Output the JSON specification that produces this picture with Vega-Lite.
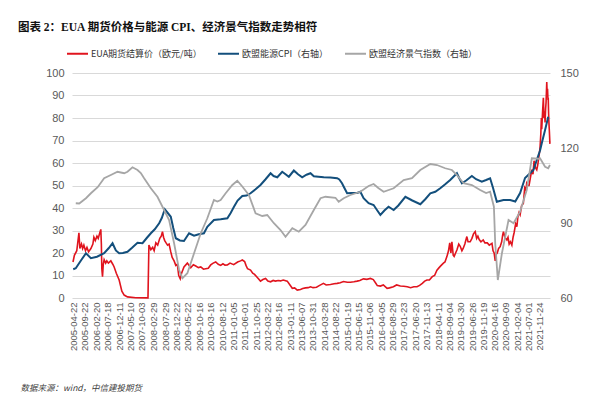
{
  "$schema": "https://vega.github.io/schema/vega-lite/v6.json",
  "width": 478,
  "height": 225,
  "autosize": {"type": "none"},
  "padding": {"left": 72, "top": 73, "right": 66, "bottom": 100},
  "background": "white",
  "title": {
    "text": "图表 2：EUA 期货价格与能源 CPI、经济景气指数走势相符",
    "anchor": "start",
    "frame": "group",
    "dx": -54,
    "font": "Liberation Serif, Noto Sans CJK SC",
    "fontSize": 11.5,
    "fontWeight": "bold",
    "color": "#111111",
    "offset": 9
  },
  "datasets": {
    "eua": [
      {"d":"2005-04-22","v":16},{"d":"2005-05-10","v":19},{"d":"2005-06-10","v":21},{"d":"2005-07-08","v":29},{"d":"2005-07-20","v":22},{"d":"2005-08-10","v":24},{"d":"2005-08-25","v":22},{"d":"2005-09-10","v":23.5},{"d":"2005-10-01","v":21},{"d":"2005-10-20","v":22.5},{"d":"2005-11-10","v":20.5},{"d":"2005-12-10","v":22},
      {"d":"2006-01-05","v":24},{"d":"2006-01-18","v":27},{"d":"2006-02-05","v":25.5},{"d":"2006-02-27","v":27.5},{"d":"2006-03-15","v":26.5},{"d":"2006-04-05","v":29},{"d":"2006-04-18","v":30.5},{"d":"2006-04-25","v":24},{"d":"2006-05-01","v":13},{"d":"2006-05-10","v":9.5},{"d":"2006-05-20","v":15},{"d":"2006-05-31","v":17},{"d":"2006-06-20","v":15.5},{"d":"2006-07-05","v":16.5},{"d":"2006-07-25","v":15.5},{"d":"2006-08-26","v":16.5},{"d":"2006-09-20","v":15},{"d":"2006-10-08","v":13.8},{"d":"2006-11-05","v":11},{"d":"2006-12-12","v":8},
      {"d":"2007-01-16","v":3},{"d":"2007-02-15","v":1.3},{"d":"2007-03-30","v":0.5},{"d":"2007-07-15","v":0.1},{"d":"2007-12-21","v":0.05},
      {"d":"2008-01-02","v":23.5},{"d":"2008-01-27","v":21.5},{"d":"2008-02-20","v":22.5},{"d":"2008-03-10","v":21},{"d":"2008-04-01","v":24.5},{"d":"2008-04-25","v":23.5},{"d":"2008-05-22","v":26.5},{"d":"2008-06-10","v":27.5},{"d":"2008-06-26","v":29.5},{"d":"2008-07-10","v":27},{"d":"2008-07-25","v":25.5},{"d":"2008-08-12","v":24.5},{"d":"2008-08-31","v":23.5},{"d":"2008-09-20","v":24},{"d":"2008-10-12","v":20.5},{"d":"2008-10-30","v":18},{"d":"2008-11-24","v":16.5},{"d":"2008-12-16","v":14.5},
      {"d":"2009-01-05","v":15},{"d":"2009-01-23","v":10},{"d":"2009-02-12","v":8.5},{"d":"2009-03-01","v":11},{"d":"2009-04-01","v":13.8},{"d":"2009-05-15","v":15.5},{"d":"2009-06-28","v":13.5},{"d":"2009-08-01","v":14.8},{"d":"2009-09-01","v":14.2},{"d":"2009-10-05","v":13.5},{"d":"2009-11-05","v":13.8},{"d":"2009-12-10","v":12.8},
      {"d":"2010-01-08","v":13},{"d":"2010-02-10","v":13.2},{"d":"2010-03-14","v":14.7},{"d":"2010-04-15","v":15.5},{"d":"2010-05-18","v":16},{"d":"2010-06-20","v":15},{"d":"2010-07-21","v":14.5},{"d":"2010-08-20","v":15.2},{"d":"2010-09-15","v":14.6},{"d":"2010-10-16","v":14.7},{"d":"2010-11-20","v":15.5},
      {"d":"2011-01-06","v":14.8},{"d":"2011-02-26","v":16},{"d":"2011-04-05","v":16.5},{"d":"2011-04-28","v":16.9},{"d":"2011-05-28","v":16.2},{"d":"2011-06-15","v":14.5},{"d":"2011-07-05","v":13},{"d":"2011-08-13","v":12.4},{"d":"2011-09-10","v":11},{"d":"2011-10-04","v":10.5},{"d":"2011-11-12","v":9},{"d":"2011-12-20","v":7.5},
      {"d":"2012-01-20","v":8.2},{"d":"2012-02-24","v":8.7},{"d":"2012-03-25","v":7.5},{"d":"2012-04-29","v":7.2},{"d":"2012-06-01","v":7.8},{"d":"2012-07-01","v":7.5},{"d":"2012-08-05","v":7.8},{"d":"2012-09-05","v":7.6},{"d":"2012-10-10","v":8},{"d":"2012-12-01","v":7.5},
      {"d":"2013-01-01","v":6},{"d":"2013-02-05","v":4.3},{"d":"2013-03-07","v":4.5},{"d":"2013-04-10","v":3.5},{"d":"2013-05-22","v":3.8},{"d":"2013-06-20","v":4.2},{"d":"2013-07-26","v":4.5},{"d":"2013-08-30","v":4.6},{"d":"2013-09-29","v":5},{"d":"2013-11-01","v":4.6},{"d":"2013-12-16","v":4.8},
      {"d":"2014-01-20","v":5.5},{"d":"2014-03-16","v":6.5},{"d":"2014-04-20","v":5.8},{"d":"2014-06-15","v":6},{"d":"2014-08-01","v":6.3},{"d":"2014-09-10","v":6.5},{"d":"2014-10-20","v":6.8},{"d":"2014-12-01","v":7.3},
      {"d":"2015-01-20","v":7},{"d":"2015-03-01","v":7},{"d":"2015-04-15","v":7.2},{"d":"2015-05-27","v":7.5},{"d":"2015-07-01","v":7.8},{"d":"2015-08-17","v":8.5},{"d":"2015-10-01","v":8.3},{"d":"2015-11-15","v":8.7},{"d":"2015-12-23","v":8.2},
      {"d":"2016-01-20","v":6.8},{"d":"2016-02-13","v":5.5},{"d":"2016-03-24","v":5.3},{"d":"2016-05-01","v":5.8},{"d":"2016-06-19","v":4.3},{"d":"2016-07-20","v":4.5},{"d":"2016-09-09","v":5},{"d":"2016-10-20","v":5.8},{"d":"2016-12-08","v":5.3},
      {"d":"2017-01-20","v":5.2},{"d":"2017-03-08","v":5},{"d":"2017-04-20","v":4.6},{"d":"2017-06-01","v":5},{"d":"2017-07-12","v":5},{"d":"2017-08-15","v":5.6},{"d":"2017-09-19","v":6.5},{"d":"2017-10-20","v":7.5},{"d":"2017-11-18","v":8},{"d":"2017-12-20","v":8},
      {"d":"2018-01-26","v":9.5},{"d":"2018-02-25","v":10},{"d":"2018-03-28","v":12.4},{"d":"2018-04-25","v":13.5},{"d":"2018-05-22","v":14.5},{"d":"2018-06-20","v":15.5},{"d":"2018-07-10","v":16},{"d":"2018-08-04","v":18.4},{"d":"2018-08-25","v":21},{"d":"2018-09-10","v":24.5},{"d":"2018-09-25","v":20},{"d":"2018-10-08","v":25},{"d":"2018-10-25","v":19},{"d":"2018-11-06","v":18.5},{"d":"2018-11-25","v":20},{"d":"2018-12-12","v":21.3},
      {"d":"2019-01-05","v":24},{"d":"2019-01-24","v":23},{"d":"2019-02-15","v":21},{"d":"2019-03-03","v":22},{"d":"2019-03-25","v":24},{"d":"2019-04-20","v":27.3},{"d":"2019-05-05","v":25},{"d":"2019-06-02","v":25},{"d":"2019-06-25","v":26.5},{"d":"2019-07-15","v":28.5},{"d":"2019-08-06","v":29.5},{"d":"2019-08-25","v":26.5},{"d":"2019-09-10","v":27.5},{"d":"2019-09-27","v":26},{"d":"2019-10-20","v":25},{"d":"2019-11-18","v":25.8},{"d":"2019-12-10","v":24.5},
      {"d":"2020-01-10","v":24.5},{"d":"2020-02-05","v":23.5},{"d":"2020-03-11","v":24.3},{"d":"2020-03-25","v":21},{"d":"2020-04-08","v":20},{"d":"2020-04-22","v":16.5},{"d":"2020-05-05","v":19.5},{"d":"2020-05-18","v":20},{"d":"2020-06-05","v":22},{"d":"2020-06-25","v":22.8},{"d":"2020-07-15","v":25},{"d":"2020-07-28","v":28},{"d":"2020-08-07","v":29.5},{"d":"2020-08-25","v":27},{"d":"2020-09-20","v":25.8},{"d":"2020-10-05","v":27},{"d":"2020-10-20","v":24},{"d":"2020-11-05","v":25},{"d":"2020-11-24","v":23.5},{"d":"2020-12-10","v":27},{"d":"2020-12-23","v":29},
      {"d":"2021-01-12","v":33},{"d":"2021-01-28","v":31.7},{"d":"2021-02-10","v":36},{"d":"2021-02-25","v":38},{"d":"2021-03-11","v":37},{"d":"2021-03-30","v":41},{"d":"2021-04-22","v":42},{"d":"2021-05-10","v":49},{"d":"2021-05-25","v":48},{"d":"2021-06-05","v":51},{"d":"2021-06-20","v":50},{"d":"2021-07-05","v":50},{"d":"2021-07-20","v":53},{"d":"2021-08-10","v":57},{"d":"2021-08-25","v":55},{"d":"2021-09-08","v":61},{"d":"2021-09-25","v":58},{"d":"2021-10-13","v":57},{"d":"2021-10-25","v":59},{"d":"2021-11-03","v":61},{"d":"2021-11-15","v":64},{"d":"2021-11-25","v":67},{"d":"2021-12-05","v":73},{"d":"2021-12-12","v":80},{"d":"2021-12-17","v":75},{"d":"2021-12-28","v":83},
      {"d":"2022-01-07","v":89},{"d":"2022-01-15","v":80},{"d":"2022-01-22","v":83},{"d":"2022-01-29","v":78},{"d":"2022-02-05","v":84},{"d":"2022-02-11","v":87},{"d":"2022-02-20","v":96},{"d":"2022-02-25","v":91},{"d":"2022-03-02","v":93},{"d":"2022-03-08","v":88},{"d":"2022-03-11","v":89},{"d":"2022-03-16","v":82},{"d":"2022-03-20","v":78},{"d":"2022-03-26","v":74},{"d":"2022-04-02","v":68.5}
    ],
    "cpi": [
      {"d":"2005-04-25","v":71.5},{"d":"2005-05-28","v":71.9},{"d":"2005-08-03","v":75},{"d":"2005-10-07","v":77.9},{"d":"2005-12-10","v":75.9},{"d":"2006-02-27","v":76.5},{"d":"2006-05-31","v":77.9},{"d":"2006-07-31","v":80},{"d":"2006-09-17","v":81.9},{"d":"2006-10-30","v":79},{"d":"2006-12-12","v":77.9},
      {"d":"2007-01-29","v":78},{"d":"2007-03-30","v":78.5},{"d":"2007-05-25","v":80},{"d":"2007-08-07","v":82.1},{"d":"2007-10-11","v":81.9},{"d":"2007-12-05","v":84},{"d":"2008-01-27","v":85.9},{"d":"2008-03-18","v":87.5},{"d":"2008-05-14","v":89.9},{"d":"2008-06-17","v":92},{"d":"2008-07-26","v":95.5},{"d":"2008-09-03","v":94},{"d":"2008-10-12","v":92.5},{"d":"2008-11-13","v":88},{"d":"2008-12-16","v":83.9},
      {"d":"2009-02-07","v":83},{"d":"2009-04-01","v":82.8},{"d":"2009-06-06","v":85.9},{"d":"2009-08-10","v":84.9},{"d":"2009-10-10","v":85.5},{"d":"2009-12-16","v":85.9},{"d":"2010-01-29","v":88.5},{"d":"2010-04-25","v":91.2},{"d":"2010-07-21","v":91.5},{"d":"2010-10-16","v":91.9},{"d":"2010-11-28","v":94},
      {"d":"2011-01-10","v":96.5},{"d":"2011-02-26","v":99},{"d":"2011-04-28","v":100.8},{"d":"2011-06-23","v":101},{"d":"2011-08-13","v":101.9},{"d":"2011-10-17","v":103.5},{"d":"2011-12-20","v":105.2},{"d":"2012-02-24","v":107.5},{"d":"2012-04-29","v":109.9},{"d":"2012-06-07","v":108.8},{"d":"2012-07-25","v":108.3},{"d":"2012-09-27","v":110.5},{"d":"2012-11-09","v":109.5},{"d":"2012-12-22","v":108.5},
      {"d":"2013-02-25","v":111},{"d":"2013-04-20","v":109.5},{"d":"2013-06-13","v":108.3},{"d":"2013-08-08","v":109.3},{"d":"2013-09-29","v":109.9},{"d":"2013-11-11","v":108.7},{"d":"2014-01-10","v":108.5},{"d":"2014-03-20","v":108.3},{"d":"2014-06-14","v":108.2},{"d":"2014-09-10","v":107.9},{"d":"2014-10-08","v":107.4},{"d":"2014-11-12","v":105.9},{"d":"2014-12-13","v":104},
      {"d":"2015-01-17","v":101.9},{"d":"2015-03-13","v":102},{"d":"2015-05-27","v":102},{"d":"2015-07-08","v":102.5},{"d":"2015-08-19","v":99.9},{"d":"2015-10-23","v":97.9},{"d":"2015-12-27","v":97.2},{"d":"2016-02-13","v":95},{"d":"2016-03-24","v":93.2},{"d":"2016-05-15","v":95},{"d":"2016-07-08","v":96.5},{"d":"2016-09-12","v":95.2},{"d":"2016-11-12","v":97},
      {"d":"2017-02-11","v":100.5},{"d":"2017-05-12","v":99},{"d":"2017-08-24","v":97.5},{"d":"2017-10-27","v":99.5},{"d":"2018-01-01","v":101.9},{"d":"2018-03-06","v":102.5},{"d":"2018-05-10","v":103.9},{"d":"2018-07-13","v":105.5},{"d":"2018-09-16","v":107.2},{"d":"2018-12-12","v":109.9},
      {"d":"2019-01-10","v":108},{"d":"2019-02-15","v":105.9},{"d":"2019-04-11","v":107},{"d":"2019-06-24","v":108.8},{"d":"2019-08-18","v":107.5},{"d":"2019-10-31","v":106.5},{"d":"2019-12-26","v":107.2},{"d":"2020-02-16","v":107.9},{"d":"2020-03-25","v":104},{"d":"2020-05-13","v":98.5},{"d":"2020-08-07","v":99.2},{"d":"2020-11-02","v":99.2},
      {"d":"2021-01-07","v":98.6},{"d":"2021-03-11","v":102},{"d":"2021-05-14","v":108},{"d":"2021-07-18","v":109.9},{"d":"2021-08-31","v":111.2},{"d":"2021-10-13","v":115.2},{"d":"2021-11-25","v":119},{"d":"2021-12-17","v":121.9},{"d":"2022-01-29","v":127.2},{"d":"2022-03-11","v":132.5}
    ],
    "esi": [
      {"d":"2005-05-28","v":97.9},{"d":"2005-07-12","v":97.8},{"d":"2005-10-07","v":99.9},{"d":"2005-12-10","v":101.9},{"d":"2006-03-08","v":104.3},{"d":"2006-05-31","v":107.9},{"d":"2006-08-26","v":109.2},{"d":"2006-11-21","v":110.5},
      {"d":"2007-02-15","v":109.9},{"d":"2007-03-30","v":110.5},{"d":"2007-06-03","v":112.3},{"d":"2007-08-07","v":111.2},{"d":"2007-09-19","v":110},{"d":"2007-11-01","v":107.9},{"d":"2008-01-27","v":103.9},{"d":"2008-04-22","v":100.5},{"d":"2008-06-26","v":96.5},{"d":"2008-09-20","v":91.2},{"d":"2008-11-24","v":81.9},
      {"d":"2009-01-28","v":71.2},{"d":"2009-03-13","v":67.9},{"d":"2009-05-15","v":69.9},{"d":"2009-08-10","v":77.9},{"d":"2009-11-05","v":85.9},{"d":"2010-01-29","v":91.9},{"d":"2010-04-25","v":99.2},{"d":"2010-06-08","v":98.6},{"d":"2010-07-21","v":99.2},{"d":"2010-09-24","v":101.9},{"d":"2010-12-20","v":105.2},
      {"d":"2011-02-22","v":106.9},{"d":"2011-04-28","v":104.6},{"d":"2011-07-22","v":101.2},{"d":"2011-10-17","v":93.9},{"d":"2012-01-12","v":92.8},{"d":"2012-03-17","v":93.2},{"d":"2012-06-11","v":89.9},{"d":"2012-09-05","v":87.2},{"d":"2012-11-09","v":84.5},
      {"d":"2013-02-05","v":87.9},{"d":"2013-04-30","v":86.5},{"d":"2013-07-26","v":89.2},{"d":"2013-11-11","v":95.2},{"d":"2014-02-06","v":99.9},{"d":"2014-04-11","v":100.5},{"d":"2014-08-19","v":100.1},{"d":"2014-09-30","v":98.5},{"d":"2014-12-04","v":99.9},
      {"d":"2015-03-01","v":101.2},{"d":"2015-07-08","v":102.5},{"d":"2015-10-23","v":104.8},{"d":"2015-12-27","v":105.6},{"d":"2016-02-26","v":104},{"d":"2016-05-05","v":102.5},{"d":"2016-09-12","v":103.9},{"d":"2017-01-20","v":107.2},{"d":"2017-05-08","v":107.9},{"d":"2017-08-24","v":111.2},
      {"d":"2018-01-01","v":113.6},{"d":"2018-03-28","v":113.2},{"d":"2018-07-13","v":111.9},{"d":"2018-10-08","v":111.2},{"d":"2018-12-12","v":109.2},{"d":"2019-03-08","v":105.9},{"d":"2019-06-24","v":105.2},{"d":"2019-10-09","v":103.2},{"d":"2019-12-26","v":102},{"d":"2020-02-16","v":102.5},
      {"d":"2020-04-05","v":96.5},{"d":"2020-04-22","v":81.9},{"d":"2020-05-26","v":67.2},{"d":"2020-07-18","v":77.9},{"d":"2020-10-12","v":91.2},{"d":"2020-12-16","v":89.9},{"d":"2021-03-11","v":94.5},{"d":"2021-06-05","v":103.2},{"d":"2021-08-10","v":115.9},{"d":"2021-11-03","v":115.7},{"d":"2021-11-25","v":115.9},{"d":"2022-01-29","v":112.5},{"d":"2022-03-11","v":111.9},{"d":"2022-04-02","v":113.2}
    ]
  },
  "encoding": {
    "x": {
      "field": "d", "type": "temporal",
      "scale": {"type": "utc", "domain": [{"year": 2005, "month": 4, "date": 9, "utc": true}, {"year": 2022, "month": 4, "date": 3, "utc": true}]},
      "axis": {
        "values": [
          {"year":2005,"month":4,"date":22,"utc":true},{"year":2005,"month":9,"date":22,"utc":true},{"year":2006,"month":2,"date":20,"utc":true},{"year":2006,"month":7,"date":18,"utc":true},{"year":2006,"month":12,"date":11,"utc":true},{"year":2007,"month":5,"date":10,"utc":true},{"year":2007,"month":10,"date":3,"utc":true},{"year":2008,"month":2,"date":29,"utc":true},{"year":2008,"month":7,"date":29,"utc":true},{"year":2008,"month":12,"date":22,"utc":true},{"year":2009,"month":5,"date":22,"utc":true},{"year":2009,"month":10,"date":16,"utc":true},{"year":2010,"month":3,"date":16,"utc":true},{"year":2010,"month":8,"date":12,"utc":true},{"year":2011,"month":1,"date":5,"utc":true},{"year":2011,"month":6,"date":1,"utc":true},{"year":2011,"month":10,"date":25,"utc":true},{"year":2012,"month":3,"date":22,"utc":true},{"year":2012,"month":8,"date":16,"utc":true},{"year":2013,"month":1,"date":11,"utc":true},{"year":2013,"month":6,"date":7,"utc":true},{"year":2013,"month":10,"date":31,"utc":true},{"year":2014,"month":3,"date":28,"utc":true},{"year":2014,"month":8,"date":22,"utc":true},{"year":2015,"month":1,"date":19,"utc":true},{"year":2015,"month":6,"date":15,"utc":true},{"year":2015,"month":11,"date":6,"utc":true},{"year":2016,"month":4,"date":5,"utc":true},{"year":2016,"month":8,"date":29,"utc":true},{"year":2017,"month":1,"date":23,"utc":true},{"year":2017,"month":6,"date":20,"utc":true},{"year":2017,"month":11,"date":13,"utc":true},{"year":2018,"month":4,"date":11,"utc":true},{"year":2018,"month":9,"date":4,"utc":true},{"year":2019,"month":1,"date":30,"utc":true},{"year":2019,"month":6,"date":26,"utc":true},{"year":2019,"month":11,"date":19,"utc":true},{"year":2020,"month":4,"date":16,"utc":true},{"year":2020,"month":9,"date":9,"utc":true},{"year":2021,"month":2,"date":4,"utc":true},{"year":2021,"month":7,"date":1,"utc":true},{"year":2021,"month":11,"date":24,"utc":true}
        ],
        "labelExpr": "utcFormat(datum.value, '%Y-%m-%d')",
        "labelAngle": -90,
        "labelAlign": "right",
        "labelBaseline": "middle",
        "labelFlush": false,
        "labelOverlap": false,
        "labelFont": "Liberation Sans",
        "labelFontSize": 9.5,
        "labelColor": "#595959",
        "labelPadding": 4,
        "ticks": false,
        "domain": false,
        "grid": false,
        "title": "数据来源：wind，中信建投期货",
        "titleFont": "Noto Sans CJK SC",
        "titleFontSize": 8.5,
        "titleFontWeight": "normal",
        "titleFontStyle": "italic",
        "titleColor": "#404040",
        "titleX": -52,
        "titleY": 89,
        "titleAlign": "left",
        "titleBaseline": "middle"
      }
    }
  },
  "layer": [
    {
      "data": {"name": "eua"},
      "mark": {"type": "line", "strokeWidth": 1.6},
      "encoding": {
        "y": {
          "field": "v", "type": "quantitative",
          "scale": {"domain": [0, 100], "nice": false},
          "axis": {
            "values": [0,10,20,30,40,50,60,70,80,90,100],
            "grid": true, "gridColor": "#d9d9d9", "gridWidth": 1,
            "domain": false, "ticks": false,
            "labelFont": "Liberation Sans", "labelFontSize": 11, "labelColor": "#595959", "labelPadding": 8,
            "title": null
          }
        },
        "color": {
          "datum": "EUA期货结算价（欧元/吨）",
          "type": "nominal",
          "scale": {"domain": ["EUA期货结算价（欧元/吨）", "欧盟能源CPI（右轴）", "欧盟经济景气指数（右轴）"], "range": ["#e0141e", "#134f7c", "#a6a6a6"]},
          "legend": {
            "orient": "none", "legendX": -6, "legendY": -31, "direction": "horizontal",
            "title": null, "symbolType": "stroke", "symbolSize": 441, "symbolStrokeWidth": 2,
            "labelFont": "Noto Sans CJK SC", "labelFontSize": 9, "labelColor": "#333333",
            "labelOffset": 2, "columnPadding": 12
          }
        }
      }
    },
    {
      "layer": [
        {
          "data": {"name": "cpi"},
          "mark": {"type": "line", "strokeWidth": 2},
          "encoding": {
            "y": {
              "field": "v", "type": "quantitative",
              "scale": {"domain": [60, 150], "nice": false},
              "axis": {
                "orient": "right",
                "values": [60,75,90,105,120,135,150],
                "grid": false, "domain": false, "ticks": false,
                "labelFont": "Liberation Sans", "labelFontSize": 11, "labelColor": "#595959", "labelPadding": 10,
                "title": null
              }
            },
            "color": {"datum": "欧盟能源CPI（右轴）", "type": "nominal"}
          }
        },
        {
          "data": {"name": "esi"},
          "mark": {"type": "line", "strokeWidth": 1.8},
          "encoding": {
            "y": {"field": "v", "type": "quantitative"},
            "color": {"datum": "欧盟经济景气指数（右轴）", "type": "nominal"}
          }
        }
      ]
    }
  ],
  "resolve": {"scale": {"y": "independent"}},
  "config": {
    "view": {"stroke": null}
  }
}
